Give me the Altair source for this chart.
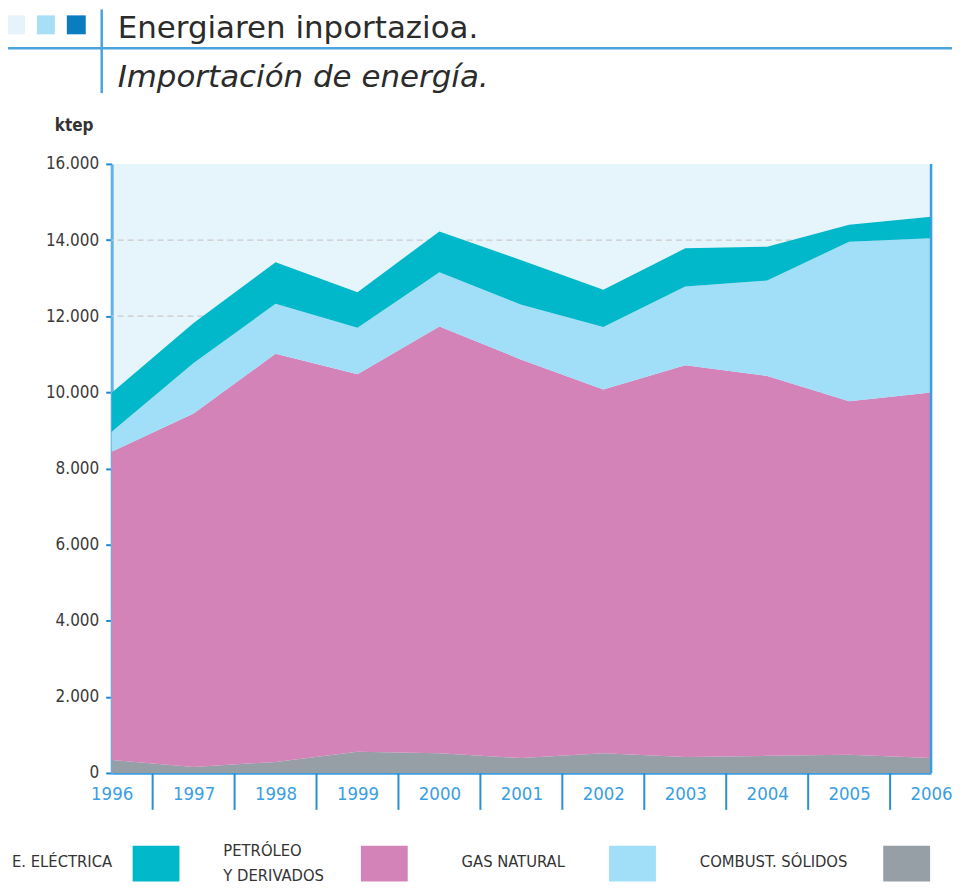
import altair as alt
import pandas as pd

# ---------------- data ----------------
years = list(range(1996, 2007))
series = ["COMBUST. SÓLIDOS", "PETRÓLEO Y DERIVADOS", "GAS NATURAL", "E. ELÉCTRICA"]
combust = [340, 160, 290, 560, 520, 390, 520, 420, 450, 480, 390]
petroleo = [8100, 9285, 10725, 9914, 11211, 10468, 9553, 10290, 9980, 9287, 9605]
gas = [524, 1326, 1310, 1223, 1422, 1441, 1640, 2068, 2505, 4190, 4049]
electrica = [1021, 1047, 1090, 932, 1074, 1171, 979, 1004, 891, 445, 567]
y_ticks = [0, 2000, 4000, 6000, 8000, 10000, 12000, 14000, 16000]
title_text = "Energiaren inportazioa."
subtitle_text = "Importación de energía."
unit_text = "ktep"

# ---------------- styles / layout ----------------
COLORS = {"COMBUST. SÓLIDOS": "#979fa6", "PETRÓLEO Y DERIVADOS": "#d383b8",
          "GAS NATURAL": "#a0dff7", "E. ELÉCTRICA": "#00b8c9"}
FONT = "Liberation Sans Narrow, DejaVu Sans Condensed, Roboto, sans-serif"
HEAD_FONT = "DejaVu Sans, sans-serif"
BLUE = "#3a9ee0"
PAD_L, PAD_T, PAD_R, PAD_B = 104, 155, 21, 115
W, H = 822, 611
OX, OY = 8 + PAD_L, 8 + PAD_T  # page position of the plot origin


def px(x):
    return x - OX


def py(y):
    return y - OY


rows = []
for i, (name, vals) in enumerate(zip(series, [combust, petroleo, gas, electrica])):
    for y, v in zip(years, vals):
        rows.append({"year": y, "serie": name, "valor": v, "orden": i})
df = pd.DataFrame(rows)

xscale = alt.Scale(domain=[years[0], years[-1]], nice=False, zero=False)
yscale = alt.Scale(domain=[y_ticks[0], y_ticks[-1]], nice=False)

xaxis = alt.Axis(values=years, format="d", ticks=False, grid=False,
                 domainColor=BLUE, domainWidth=2.5, labelColor=BLUE,
                 labelFontSize=18.5, labelPadding=12, labelFont=FONT,
                 labelFlush=False)
yaxis = alt.Axis(values=y_ticks, grid=False, domainColor="#62b2e8",
                 domainWidth=3, tickColor="#1e88d2", tickSize=6,
                 tickWidth=2, labelColor="#3a3a3a", labelFontSize=17,
                 labelPadding=7, labelFont=FONT,
                 labelExpr="replace(format(datum.value, ',d'), ',', '.')")

# grid first so it lies behind the areas
grid = alt.Chart(pd.DataFrame({"v": y_ticks[1:-1]})).mark_rule(
    color="#c9c9c9", strokeDash=[6, 4], strokeWidth=1.2
).encode(y=alt.Y("v:Q", scale=yscale, title=None, axis=yaxis))

areas = alt.Chart(df).mark_area(opacity=1).encode(
    x=alt.X("year:Q", scale=xscale, title=None, axis=xaxis),
    y=alt.Y("valor:Q", stack="zero", scale=yscale, title=None, axis=yaxis),
    color=alt.Color("serie:N", scale=alt.Scale(domain=series,
                    range=[COLORS[s] for s in series]), legend=None),
    order=alt.Order("orden:Q"),
)

mids = [(a + b) / 2 for a, b in zip(years[:-1], years[1:])]
xticks = alt.Chart(pd.DataFrame({"m": mids})).mark_rule(
    color="#2a8fd6", strokeWidth=2
).encode(x=alt.X("m:Q", scale=xscale, title=None, axis=xaxis),
         y=alt.value(H), y2=alt.value(H + 37))

right_border = alt.Chart(pd.DataFrame({"e": [years[-1]]})).mark_rule(
    color=BLUE, strokeWidth=2.5
).encode(x=alt.X("e:Q", scale=xscale, title=None, axis=xaxis),
         y=alt.value(0), y2=alt.value(H))

layers = [grid, areas, right_border, xticks]

# ---------------- header ----------------
for (x1, x2), col in zip([(7, 25), (37, 55), (67, 86)],
                         ["#e6f3fb", "#a8def6", "#0a7cc0"]):
    layers.append(alt.Chart(pd.DataFrame({"k": [0]})).mark_rect(color=col).encode(
        x=alt.value(px(x1)), x2=alt.value(px(x2)),
        y=alt.value(py(14)), y2=alt.value(py(33))))

layers.append(alt.Chart(pd.DataFrame({"k": [0]})).mark_rule(
    color="#4ba3dc", strokeWidth=2.5).encode(
    x=alt.value(px(102)), y=alt.value(py(8)), y2=alt.value(py(92))))
layers.append(alt.Chart(pd.DataFrame({"k": [0]})).mark_rule(
    color="#4ba3dc", strokeWidth=2.5).encode(
    x=alt.value(px(8)), x2=alt.value(px(955)), y=alt.value(py(47))))

layers.append(alt.Chart(pd.DataFrame({"t": [title_text]})).mark_text(
    align="left", baseline="alphabetic", font=HEAD_FONT, fontSize=31, color="#2b2b2b"
).encode(x=alt.value(px(118)), y=alt.value(py(36.5)), text="t:N"))
layers.append(alt.Chart(pd.DataFrame({"t": [subtitle_text]})).mark_text(
    align="left", baseline="alphabetic", font=HEAD_FONT, fontSize=31, fontStyle="italic",
    color="#2b2b2b"
).encode(x=alt.value(px(118)), y=alt.value(py(86)), text="t:N"))
layers.append(alt.Chart(pd.DataFrame({"t": [unit_text]})).mark_text(
    align="left", baseline="alphabetic", font=FONT, fontSize=17, fontWeight="bold",
    color="#333333"
).encode(x=alt.value(px(55)), y=alt.value(py(130)), text="t:N"))

# ---------------- legend ----------------
legend_items = [
    ("E. ELÉCTRICA", "E. ELÉCTRICA", 12, 133, 863),
    ("PETRÓLEO Y DERIVADOS", "PETRÓLEO\nY DERIVADOS", 224, 362, 852),
    ("GAS NATURAL", "GAS NATURAL", 463, 611, 863),
    ("COMBUST. SÓLIDOS", "COMBUST. SÓLIDOS", 702, 886, 863),
]
for name, label, lx, sx, ly in legend_items:
    layers.append(alt.Chart(pd.DataFrame({"t": [label]})).mark_text(
        align="left", baseline="middle", font=FONT, fontSize=16.5, color="#333333",
        lineBreak="\n", lineHeight=25
    ).encode(x=alt.value(px(lx)), y=alt.value(py(ly)), text="t:N"))
    layers.append(alt.Chart(pd.DataFrame({"k": [0]})).mark_rect(
        color=COLORS[name]).encode(
        x=alt.value(px(sx)), x2=alt.value(px(sx + 47)),
        y=alt.value(py(847)), y2=alt.value(py(883))))

chart = alt.layer(*layers).properties(
    width=W, height=H,
    autosize=alt.AutoSizeParams(type="none"),
    padding={"left": PAD_L, "top": PAD_T, "right": PAD_R, "bottom": PAD_B},
).configure_view(fill="#e6f4fc", strokeWidth=0)

chart.save("out.html", embed_options={"renderer": "svg", "actions": False})
